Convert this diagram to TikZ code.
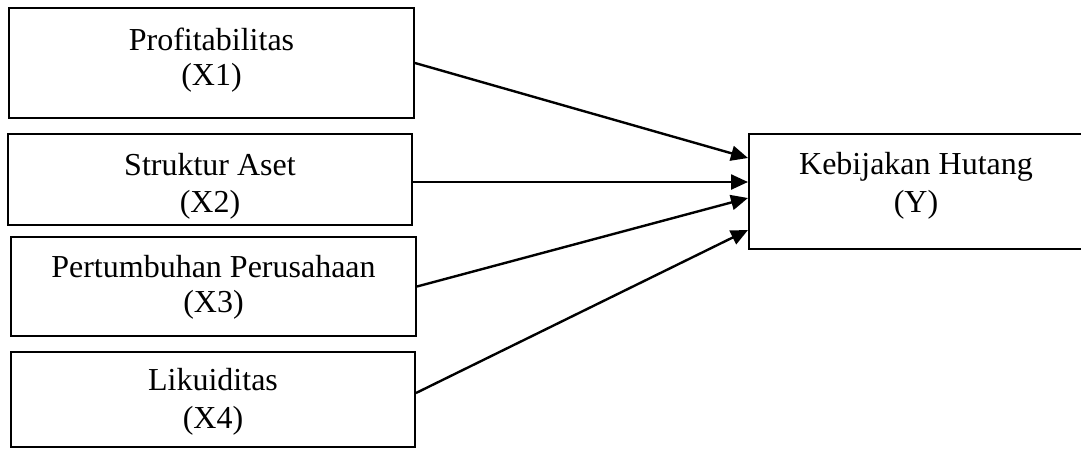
\documentclass[tikz,border=0pt]{standalone}
\usepackage{fontspec}
\setmainfont{Liberation Serif}
\usetikzlibrary{arrows.meta,calc}
\begin{document}
\begin{tikzpicture}[x=1pt,y=-1pt,
  varbox/.style={draw=black,line width=2pt,rectangle,inner sep=0pt},
  lbl/.style={anchor=base,inner sep=0pt,font=\fontsize{32}{36}\selectfont},
  conn/.style={line width=2.4pt,-{Triangle[length=17pt,width=15pt]}}]
\useasboundingbox (0,0) rectangle (1081,448);
\fill[white] (0,0) rectangle (1081,448);
% boxes
\node[varbox,minimum width=405pt,minimum height=110pt] (x1) at (211.5,63) {};
\node[varbox,minimum width=404pt,minimum height=91pt] (x2) at (210,179.5) {};
\node[varbox,minimum width=405pt,minimum height=99pt] (x3) at (213.5,286.5) {};
\node[varbox,minimum width=404pt,minimum height=95pt] (x4) at (213,399.5) {};
\node[varbox,minimum width=334pt,minimum height=115pt] (y) at (916,191.5) {};
% labels
\node[lbl] (x1a) at (211.5,50) {Profitabilitas};
\node[lbl] (x1b) at (211.5,85) {(X1)};
\node[lbl] (x2a) at (210,175) {Struktur Aset};
\node[lbl] (x2b) at (210,212) {(X2)};
\node[lbl] (x3a) at (213.5,277) {Pertumbuhan Perusahaan};
\node[lbl] (x3b) at (213.5,312) {(X3)};
\node[lbl] (x4a) at (213,390) {Likuiditas};
\node[lbl] (x4b) at (213,428) {(X4)};
\node[lbl] (ya) at (916,174) {Kebijakan Hutang};
\node[lbl] (yb) at (916,212) {(Y)};
% connectors
\draw[conn] (x1.east) -- ($(y.west)+(0,-33.5)$);
\draw[conn] ($(x2.east)+(0,2.5)$) -- ($(y.west)+(0,-9.5)$);
\draw[conn] (x3.east) -- ($(y.west)+(0,6.5)$);
\draw[conn] ($(x4.east)+(0,-6.5)$) -- ($(y.west)+(0,38.5)$);
\end{tikzpicture}
\end{document}
